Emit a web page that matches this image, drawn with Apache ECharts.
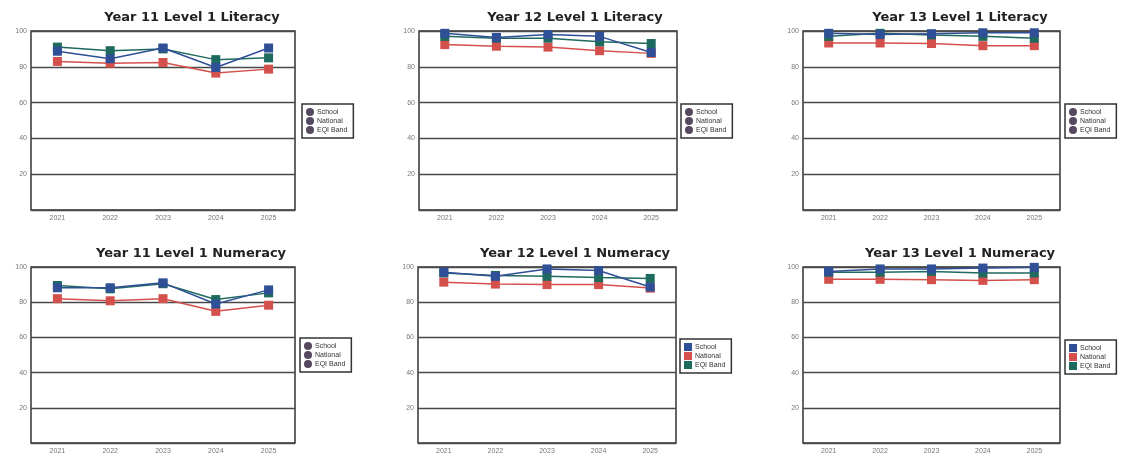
<!DOCTYPE html>
<html>
<head>
<meta charset="utf-8">
<script src="https://cdn.jsdelivr.net/npm/echarts@6/dist/echarts.min.js"></script>
<style>html,body{margin:0;padding:0;background:#fff;}#c{width:1124px;height:459px;}</style>
</head>
<body>
<div id="c"></div>
<script>
const categories = ['2021', '2022', '2023', '2024', '2025'];
const yTicks = [0, 20, 40, 60, 80, 100];
const seriesNames = ['School', 'National', 'EQI Band'];

const titles = ['Year 11 Level 1 Literacy', 'Year 12 Level 1 Literacy', 'Year 13 Level 1 Literacy',
                'Year 11 Level 1 Numeracy', 'Year 12 Level 1 Numeracy', 'Year 13 Level 1 Numeracy'];

const y11LitSchool   = [88.7, 84.5, 90.5, 79.6, 90.5];
const y11LitNational = [83.0, 82.0, 82.4, 76.5, 78.7];
const y11LitEqi      = [91.0, 89.0, 90.0, 84.0, 85.0];

const y12LitSchool   = [98.7, 96.4, 98.0, 97.0, 88.0];
const y12LitNational = [92.4, 91.5, 91.0, 89.0, 87.5];
const y12LitEqi      = [97.0, 96.0, 96.0, 94.0, 93.0];

const y13LitSchool   = [98.7, 98.0, 98.5, 99.0, 99.0];
const y13LitNational = [93.3, 93.3, 93.0, 91.8, 91.8];
const y13LitEqi      = [97.0, 98.7, 97.8, 97.0, 96.0];

const y11NumSchool   = [88.2, 88.2, 91.0, 79.0, 87.0];
const y11NumNational = [82.0, 80.8, 82.0, 74.8, 78.3];
const y11NumEqi      = [89.5, 87.6, 90.5, 81.5, 85.3];

const y12NumSchool   = [97.0, 94.7, 98.9, 98.0, 88.6];
const y12NumNational = [91.4, 90.3, 90.0, 90.0, 88.0];
const y12NumEqi      = [96.6, 95.2, 94.7, 94.0, 93.5];

const y13NumSchool   = [97.5, 98.9, 98.9, 99.4, 99.8];
const y13NumNational = [93.0, 93.0, 92.8, 92.4, 92.8];
const y13NumEqi      = [97.0, 97.0, 97.5, 96.6, 96.6];

const panelData = [
  [y11LitSchool, y11LitNational, y11LitEqi],
  [y12LitSchool, y12LitNational, y12LitEqi],
  [y13LitSchool, y13LitNational, y13LitEqi],
  [y11NumSchool, y11NumNational, y11NumEqi],
  [y12NumSchool, y12NumNational, y12NumEqi],
  [y13NumSchool, y13NumNational, y13NumEqi]
];

const colors = { 'School': '#2f4f96', 'National': '#d4504c', 'EQI Band': '#1f6a5e' };

const grids = [
  { left: 31, top: 31, width: 264, height: 179 },
  { left: 419, top: 31, width: 258, height: 179 },
  { left: 803, top: 31, width: 257, height: 179 },
  { left: 31, top: 267, width: 264, height: 176 },
  { left: 418, top: 267, width: 258, height: 176 },
  { left: 803, top: 267, width: 257, height: 176 }
];
const titleCenters = [187, 570, 955, 186, 570, 955];
const legendPos = [
  { left: 302, top: 104 }, { left: 681, top: 104 }, { left: 1065, top: 104 },
  { left: 300, top: 338 }, { left: 680, top: 339 }, { left: 1065, top: 340 }
];
const legendColored = [false, false, false, false, true, true];

const option = {
  animation: false,
  backgroundColor: '#fff',
  title: [], grid: [], xAxis: [], yAxis: [], series: [], legend: []
};

grids.forEach((g, i) => {
  option.title.push({
    text: titles[i],
    left: titleCenters[i],
    top: g.top - 25,
    textAlign: 'center',
    textStyle: { fontFamily: 'DejaVu Sans, sans-serif', fontSize: 13, fontWeight: 'bold', color: '#222' }
  });
  option.grid.push(Object.assign({ show: true, borderColor: '#333', borderWidth: 1.5, backgroundColor: '#fff' }, g));
  option.xAxis.push({
    type: 'category', gridIndex: i, data: categories, boundaryGap: true,
    axisLine: { show: false }, axisTick: { show: false },
    axisLabel: { fontSize: 7, color: '#777', margin: 5, fontFamily: 'Liberation Sans, Arial, sans-serif' }
  });
  option.yAxis.push({
    type: 'value', gridIndex: i, min: yTicks[0], max: yTicks[yTicks.length - 1], interval: 20,
    axisLine: { show: false }, axisTick: { show: false },
    axisLabel: { fontSize: 7, color: '#777', margin: 4, fontFamily: 'Liberation Sans, Arial, sans-serif',
      formatter: v => (v === 0 ? '' : String(v)) },
    splitLine: { show: true, lineStyle: { color: '#484848', width: 1.4 } }
  });
  const order = [1, 2, 0];
  order.forEach(k => {
    const name = seriesNames[k];
    option.series.push({
      type: 'line', name: name, xAxisIndex: i, yAxisIndex: i,
      data: panelData[i][k],
      symbol: 'rect', symbolSize: 9,
      lineStyle: { color: colors[name], width: 1.5 },
      itemStyle: { color: colors[name] },
      z: k === 0 ? 5 : 3
    });
  });
  option.legend.push({
    orient: 'vertical', left: legendPos[i].left, top: legendPos[i].top,
    backgroundColor: '#fff', borderColor: '#333', borderWidth: 1.5, borderRadius: 0,
    padding: [4, 6, 4, 4], itemGap: 1, itemWidth: 8, itemHeight: 8,
    selectedMode: false,
    textStyle: { fontSize: 7, color: '#333', fontFamily: 'Liberation Sans, Arial, sans-serif', padding: [0, 0, 0, -2] },
    data: seriesNames.map(n => ({
      name: n,
      icon: legendColored[i] ? 'rect' : 'circle',
      itemStyle: { color: legendColored[i] ? colors[n] : '#55485f' }
    }))
  });
});

const chart = echarts.init(document.getElementById('c'), null, { renderer: 'canvas' });
chart.setOption(option);
</script>
</body>
</html>
